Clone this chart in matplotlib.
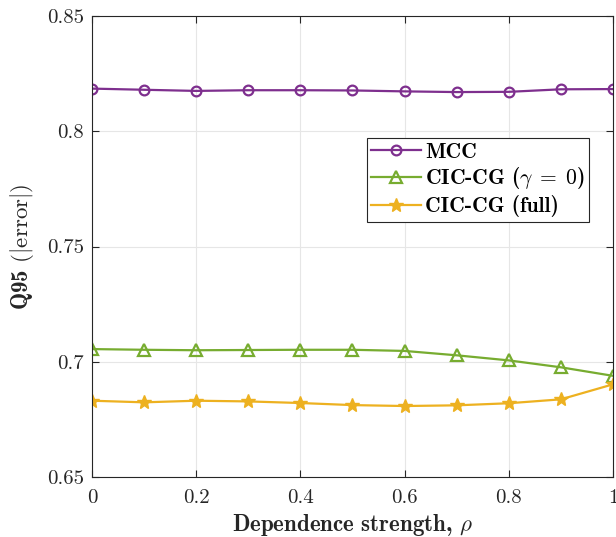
import numpy as np
import matplotlib
matplotlib.use("Agg")
import matplotlib.pyplot as plt

plt.rcParams["font.family"] = "serif"
plt.rcParams["font.serif"] = ["cmr10"]
plt.rcParams["mathtext.fontset"] = "cm"
plt.rcParams["axes.unicode_minus"] = False
plt.rcParams["axes.formatter.use_mathtext"] = True

# dependence strength and Q95 of absolute error for each method
rho = [0.0, 0.1, 0.2, 0.3, 0.4, 0.5, 0.6, 0.7, 0.8, 0.9, 1.0]
mcc = [0.8185, 0.8180, 0.8175, 0.8178, 0.8178, 0.8177, 0.8173, 0.8170, 0.8171, 0.8182, 0.8183]
cic_gamma0 = [0.7055, 0.7052, 0.7050, 0.7051, 0.7052, 0.7052, 0.7047, 0.7028, 0.7006, 0.6976, 0.6939]
cic_full = [0.6831, 0.6824, 0.6831, 0.6828, 0.6821, 0.6812, 0.6808, 0.6811, 0.6820, 0.6837, 0.6902]

labels = ["MCC", r"CIC-CG ($\gamma\;=\;0$)", "CIC-CG (full)"]
colors = ["#7E2F8E", "#77AC30", "#EDB120"]
xticks = [0, 0.2, 0.4, 0.6, 0.8, 1]
yticks = [0.65, 0.7, 0.75, 0.8, 0.85]

fig = plt.figure(figsize=(6.16, 5.37), dpi=100)
ax = fig.add_axes([0.1494, 0.1117, 0.8456, 0.8585])

ax.plot(rho, mcc, color=colors[0], lw=1.6, marker="o", ms=7, mfc="none", mew=1.6, label=labels[0])
ax.plot(rho, cic_gamma0, color=colors[1], lw=1.6, marker="^", ms=8, mfc="none", mew=1.6, label=labels[1])
ax.plot(rho, cic_full, color=colors[2], lw=1.6, marker="*", ms=10, mew=1.0, label=labels[2])

ax.set_xlim(0, 1)
ax.set_ylim(0.65, 0.85)
ax.set_xticks(xticks)
ax.set_xticklabels([f"{t:g}" for t in xticks])
ax.set_yticks(yticks)
ax.set_yticklabels([f"{t:g}" for t in yticks])
ax.tick_params(direction="in", length=5, width=0.8, labelsize=15, colors="#262626",
               top=True, right=True)
ax.tick_params(axis="x", pad=9)
ax.tick_params(axis="y", pad=6)
ax.grid(True, color="#e6e6e6", lw=0.8)
ax.set_axisbelow(True)
for s in ax.spines.values():
    s.set_color("#262626")
    s.set_linewidth(0.8)

ax.set_xlabel(r"Dependence strength, $\rho$", fontname="cmb10", fontsize=16.5, color="#262626", labelpad=3)
ax.set_ylabel(r"Q95 $(|\mathrm{error}|)$", fontname="cmb10", fontsize=16.5, color="#262626", labelpad=8)

leg = ax.legend(loc="upper left", bbox_to_anchor=(0.528, 0.735), prop={"family": "cmb10", "size": 15.5},
                fancybox=False, framealpha=1, edgecolor="#262626", borderpad=0.2,
                handlelength=2.3, handletextpad=0.2, labelspacing=0.18, borderaxespad=0)
leg.get_frame().set_linewidth(0.8)

fig.savefig("out.png", dpi=100)
